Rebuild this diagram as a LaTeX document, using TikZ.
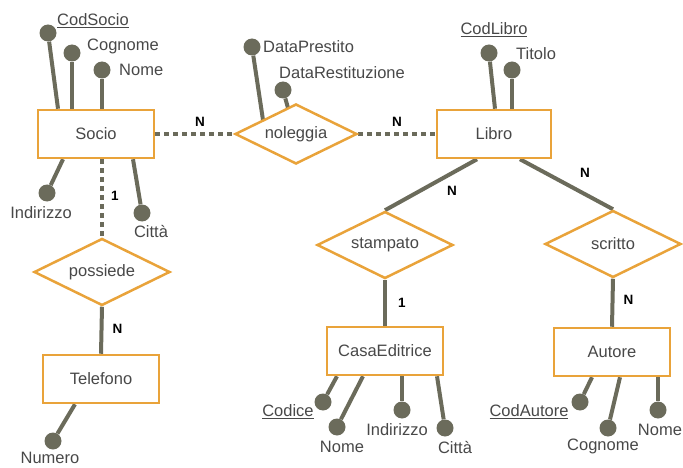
\documentclass[tikz,border=0pt]{standalone}
\usepackage{fontspec}
\setmainfont{Liberation Sans}
\usepackage{tikz}
\usetikzlibrary{shapes.geometric, backgrounds}
\definecolor{erorange}{RGB}{233, 163, 58}
\definecolor{ergrey}{RGB}{107, 107, 91}
\definecolor{ertext}{RGB}{72, 72, 72}

\begin{document}
\begin{tikzpicture}[x = 1pt, y = -1pt,
  every node/.append style = {font = \fontsize{16.5}{18}\selectfont},
  entity/.style = {draw = erorange, line width = 2.5pt, fill = white, minimum width = 116pt, minimum height = 48pt, text = ertext},
  rel/.style = {diamond, aspect = 2, draw = erorange, line width = 2.5pt, fill = white, minimum width = 136pt, minimum height = 67pt, inner sep = 0pt, text = ertext},
  attr/.style = {circle, fill = ergrey, minimum size = 17pt, inner sep = 0pt},
  lbl/.style = {text = ertext, inner sep = 1pt},
  link/.style = {draw = ergrey, line width = 4pt},
  opt/.style = {link, dash pattern = on 5pt off 4pt},
  card/.style = {font = \fontsize{13.5}{14}\selectfont\bfseries, inner sep = 1pt}]
  \useasboundingbox (0,0) rectangle (683,468);

  % entities and relationships
  \node [entity] (socio) at (96,134) {Socio};
  \node [entity, minimum width = 114pt] (libro) at (494,134) {Libro};
  \node [entity] (telefono) at (101,379) {Telefono};
  \node [entity] (casa) at (385,351) {CasaEditrice};
  \node [entity] (autore) at (612,352) {Autore};
  \node [rel, minimum width = 122pt, minimum height = 60pt] (noleggia) at (296,134) {noleggia};
  \node [rel] (possiede) at (102,272) {possiede};
  \node [rel] (stampato) at (385,245) {stampato};
  \node [rel] (scritto) at (613,244) {scritto};

  % attributes
  \node [attr] (codsocio) at (48,33) {};
  \node [attr] (cognsocio) at (72,53) {};
  \node [attr] (nomesocio) at (102,70) {};
  \node [attr] (indsocio) at (47,193) {};
  \node [attr] (cittasocio) at (142,213) {};
  \node [attr] (numero) at (53,441) {};
  \node [attr] (dataprest) at (252,47) {};
  \node [attr] (datarest) at (283,90) {};
  \node [attr] (codlibro) at (489,53) {};
  \node [attr] (titolo) at (512,70) {};
  \node [attr] (codice) at (323,402) {};
  \node [attr] (nomecasa) at (337,427) {};
  \node [attr] (indcasa) at (402,410) {};
  \node [attr] (cittacasa) at (445,428) {};
  \node [attr] (codautore) at (580,402) {};
  \node [attr] (cognautore) at (608,428) {};
  \node [attr] (nomeautore) at (658,410) {};

  % attribute names
  \node [lbl, anchor = west] (l_codsocio) at (56,21) {\underline{CodSocio}};
  \node [lbl, anchor = west] (l_cognsocio) at (86,46) {Cognome};
  \node [lbl, anchor = west] (l_nomesocio) at (118,70) {Nome};
  \node [lbl] (l_indsocio) at (41,213) {Indirizzo};
  \node [lbl] (l_cittasocio) at (151,232) {Città};
  \node [lbl] (l_numero) at (50,458) {Numero};
  \node [lbl, anchor = west] (l_dataprest) at (262,47) {DataPrestito};
  \node [lbl, anchor = west] (l_datarest) at (278,73) {DataRestituzione};
  \node [lbl] (l_codlibro) at (494,30) {\underline{CodLibro}};
  \node [lbl, anchor = west] (l_titolo) at (515,54) {Titolo};
  \node [lbl] (l_codice) at (288,412) {\underline{Codice}};
  \node [lbl] (l_nomecasa) at (342,447) {Nome};
  \node [lbl] (l_indcasa) at (397,430) {Indirizzo};
  \node [lbl] (l_cittacasa) at (455,448) {Città};
  \node [lbl] (l_codautore) at (529,412) {\underline{CodAutore}};
  \node [lbl] (l_cognautore) at (603,446) {Cognome};
  \node [lbl] (l_nomeautore) at (660,430) {Nome};

  \begin{scope}[on background layer]
    % edges
    \draw [opt] (socio.east) -- (noleggia.west) node [card, pos = 0.57, above = 4pt] {N};
    \draw [opt] (noleggia.east) -- (libro.west) node [card, midway, above = 4pt] {N};
    \draw [opt] (possiede.north |- socio.south) -- (possiede.north) node [card, pos = 0.47, right = 6pt] {1};
    \draw [link] (possiede.south) -- (telefono.north) node [card, pos = 0.48, right = 8pt] {N};
    \draw [link] ([xshift = -17pt]libro.south) -- (stampato.north) node [card, pos = 0.4, below right = 4pt] {N};
    \draw [link] ([xshift = 26pt]libro.south) -- (scritto.north) node [card, pos = 0.55, above right = 6pt] {N};
    \draw [link] (stampato.south) -- (casa.north) node [card, midway, right = 10pt] {1};
    \draw [link] (scritto.south) -- (autore.north) node [card, pos = 0.45, right = 8pt] {N};

    % attribute links
    \draw [link] (codsocio) -- ([xshift = -38pt]socio.north);
    \draw [link] (cognsocio) -- ([xshift = -24pt]socio.north);
    \draw [link] (nomesocio) -- ([xshift = 6pt]socio.north);
    \draw [link] (indsocio) -- ([xshift = -33pt]socio.south);
    \draw [link] (cittasocio) -- ([xshift = 37pt]socio.south);
    \draw [link] (numero) -- ([xshift = -26pt]telefono.south);
    \draw [link] (dataprest) -- ([xshift = -33pt, yshift = 14pt]noleggia.center);
    \draw [link] (datarest) -- ([xshift = -8pt, yshift = 26pt]noleggia.center);
    \draw [link] (codlibro) -- ([xshift = 1pt]libro.north);
    \draw [link] (titolo) -- ([xshift = 18pt]libro.north);
    \draw [link] (codice) -- ([xshift = -48pt]casa.south);
    \draw [link] (nomecasa) -- ([xshift = -22pt]casa.south);
    \draw [link] (indcasa) -- ([xshift = 17pt]casa.south);
    \draw [link] (cittacasa) -- ([xshift = 52pt]casa.south);
    \draw [link] (codautore) -- ([xshift = -20pt]autore.south);
    \draw [link] (cognautore) -- ([xshift = 8pt]autore.south);
    \draw [link] (nomeautore) -- ([xshift = 46pt]autore.south);
  \end{scope}
\end{tikzpicture}
\end{document}
